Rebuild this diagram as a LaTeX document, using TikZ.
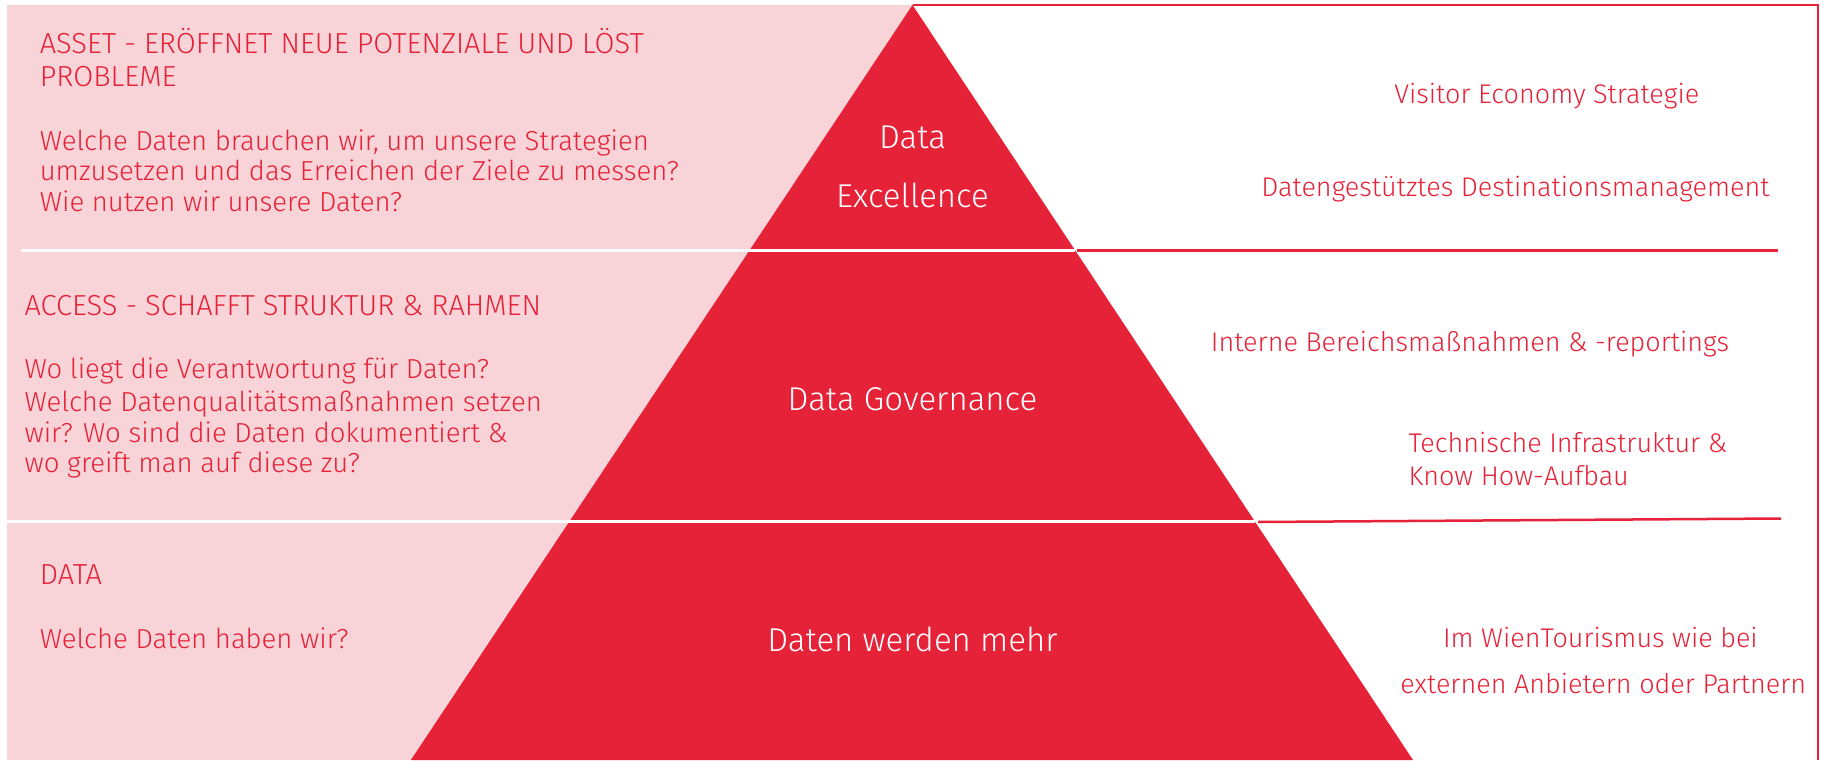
\documentclass[tikz,border=0pt]{standalone}
\usepackage{fontspec}
\setmainfont{Fira Sans}[UprightFont={* Light}]
\definecolor{wtred}{RGB}{229,34,56}
\definecolor{wtpink}{RGB}{248,211,215}
\tikzset{
  lefttxt/.style={text=wtred, font=\fontsize{27.5}{32}\selectfont, inner sep=0pt, anchor=base west},
  headtxt/.style={text=wtred, font=\fontsize{29}{33}\selectfont, inner sep=0pt, anchor=base west},
  righttxt/.style={text=wtred, font=\fontsize{27}{32}\selectfont, inner sep=0pt, anchor=base},
  rightleft/.style={text=wtred, font=\fontsize{27}{32}\selectfont, inner sep=0pt, anchor=base west},
  tritxt/.style={text=white, font=\fontsize{33}{38}\selectfont, inner sep=0pt, anchor=base},
  whiteline/.style={draw=white, line width=3pt},
  redline/.style={draw=wtred, line width=2.5pt},
}
\begin{document}
\begin{tikzpicture}[x=1pt,y=-1pt]
\useasboundingbox (0,0) rectangle (1825,760);
\fill[white] (0,0) rectangle (1825,760);
% pink background
\fill[wtpink] (7,5) rectangle (912.5,760);
% right frame
\coordinate (apex) at (912.5,5);
\coordinate (bl) at (410.9,760);
\coordinate (br) at (1413,760);
\coordinate (frtop) at (1818,5);
\coordinate (frbot) at (1818,760);
\draw[wtred, line width=2pt] (apex) -- (frtop) -- (frbot);
% triangle
\fill[wtred] (apex) -- (br) -- (bl) -- cycle;
% separators
\coordinate (w1s) at (21,250.5);
\coordinate (w1e) at (1075,250.5);
\coordinate (r1s) at (1077,250.5);
\coordinate (r1e) at (1778,250.5);
\coordinate (w2s) at (7,521.5);
\coordinate (w2e) at (1255,521.5);
\coordinate (r2s) at (1258,522);
\coordinate (r2e) at (1781,518.5);
\draw[whiteline] (w1s) -- (w1e);
\draw[whiteline] (w2s) -- (w2e);
\draw[redline] (r1s) -- (r1e);
\draw[redline] (r2s) -- (r2e);
% left texts
\node[headtxt] (a1) at (39.6,53) {ASSET - ERÖFFNET NEUE POTENZIALE UND LÖST};
\node[headtxt] (a2) at (39.6,86) {PROBLEME};
\node[lefttxt] (a3) at (39.6,150) {Welche Daten brauchen wir, um unsere Strategien};
\node[lefttxt] (a4) at (39.6,180.5) {umzusetzen und das Erreichen der Ziele zu messen?};
\node[lefttxt] (a5) at (39.6,211) {Wie nutzen wir unsere Daten?};
\node[headtxt] (b1) at (24.4,315) {ACCESS - SCHAFFT STRUKTUR \& RAHMEN};
\node[lefttxt] (b2) at (24.4,378) {Wo liegt die Verantwortung für Daten?};
\node[lefttxt] (b3) at (24.4,411) {Welche Datenqualitätsmaßnahmen setzen};
\node[lefttxt] (b4) at (24.4,442) {wir? Wo sind die Daten dokumentiert \&};
\node[lefttxt] (b5) at (24.4,472) {wo greift man auf diese zu?};
\node[headtxt] (c1) at (39.6,584) {DATA};
\node[lefttxt] (c2) at (39.6,648) {Welche Daten haben wir?};
% triangle texts
\node[tritxt] (t1) at (912.5,148) {Data};
\node[tritxt] (t2) at (912.5,207) {Excellence};
\node[tritxt] (t3) at (912.5,410) {Data Governance};
\node[tritxt] (t4) at (912.5,651) {Daten werden mehr};
% right texts
\node[righttxt] (r1) at (1546.8,103) {Visitor Economy Strategie};
\node[righttxt] (r2) at (1515.4,196) {Datengestütztes Destinationsmanagement};
\node[righttxt] (r3) at (1470,351) {Interne Bereichsmaßnahmen \& -reportings};
\node[rightleft] (r4) at (1408.3,452) {Technische Infrastruktur \&};
\node[rightleft] (r5) at (1408.3,485) {Know How-Aufbau};
\node[righttxt] (r6) at (1600.4,647) {Im WienTourismus wie bei};
\node[righttxt] (r7) at (1603.3,693) {externen Anbietern oder Partnern};
\end{tikzpicture}
\end{document}
